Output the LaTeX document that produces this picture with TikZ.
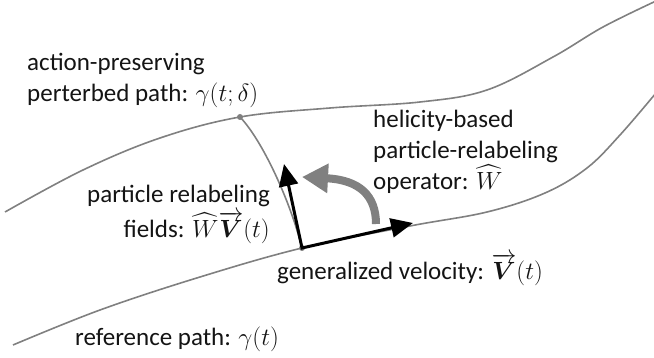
\documentclass[tikz,border=0pt]{standalone}
\usepackage{amsmath}
\usepackage{fontspec}
\setmainfont{Carlito}
\usetikzlibrary{arrows.meta}
\definecolor{pathgray}{RGB}{128,128,128}
\definecolor{txt}{RGB}{20,20,20}
\begin{document}
\begin{tikzpicture}[x=1pt,y=-1pt,
  curve/.style={draw=pathgray,line width=1.6pt},
  dot/.style={circle,fill=pathgray,inner sep=0pt,minimum size=6pt},
  vec/.style={draw=black,line width=3pt,miter limit=10},
  lbl/.style={inner sep=0pt,text=txt,font=\fontsize{25}{31}\selectfont}]
\useasboundingbox (0,0) rectangle (654,358);
% perturbed path
\draw[curve] plot[smooth,tension=0.6] coordinates {(5,212) (83,170) (160,138) (240,117) (330,108) (420,102) (487,90) (553,57) (603,27) (656,1)};
% reference path
\draw[curve] plot[smooth,tension=0.6] coordinates {(13,345) (100,310) (200,277) (302,248) (410,226) (487,212) (545,193) (587,168) (620,135) (656,93)};
\node[dot] (p) at (240,117) {};
\node[dot] (o) at (302,248) {};
\coordinate (vt) at (284,164);
\coordinate (ht) at (413,223);
\coordinate (gs) at (376,224);
\coordinate (gt) at (302,177);
% connecting curve
\draw[curve] (p.center) .. controls (262,140) and (290,200) .. (o.center);
% vectors
\draw[vec,{Triangle[length=22pt,width=19pt]}-{Triangle[length=22pt,width=19pt]}] (vt) -- (o.center) -- (ht);
% operator arrow
\draw[draw=pathgray,line width=8pt,-{Triangle[length=26pt,width=28pt]}] (gs) .. controls (376,196) and (360,180) .. (gt);
% labels (base anchor = baseline of last line)
\node[lbl,align=left,anchor=base west] (a1) at (27,102) {action-preserving\\perterbed path: $\gamma(t;\delta)$};
\node[lbl,align=left,anchor=base west] (h1) at (373,190) {helicity-based\\particle-relabeling\\operator: $\widehat{W}$};
\node[lbl,align=right,anchor=base east] (f1) at (270,238) {particle relabeling\\[4pt]fields: $\widehat{W}\overrightarrow{\boldsymbol{V}}(t)$};
\node[lbl,anchor=base west] (g1) at (277,280) {generalized velocity: $\overrightarrow{\boldsymbol{V}}(t)$};
\node[lbl,anchor=base west] (r1) at (75,345) {reference path: $\gamma(t)$};
\end{tikzpicture}
\end{document}
